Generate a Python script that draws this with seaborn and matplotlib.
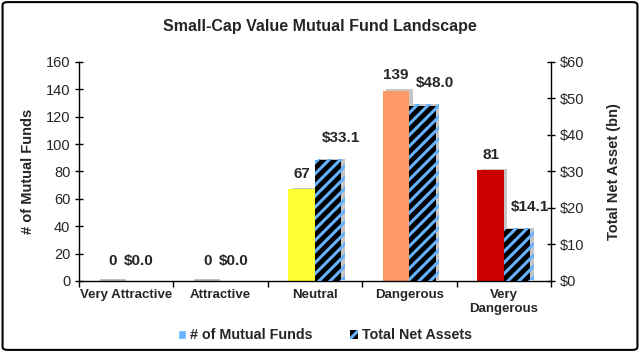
import numpy as np
import pandas as pd
import matplotlib
matplotlib.use("Agg")
import matplotlib.pyplot as plt
import matplotlib.patheffects as pe
from matplotlib.patches import Patch, FancyBboxPatch
import seaborn as sns

# ── Data ────────────────────────────────────────────────────────────────────
categories = ["Very Attractive", "Attractive", "Neutral", "Dangerous", "Very\nDangerous"]
num_funds = [0, 0, 67, 139, 81]
net_assets = [0.0, 0.0, 33.1, 48.0, 14.1]
fund_colours = ["#BFBFBF", "#BFBFBF", "#FFFF33", "#FF9966", "#CC0000"]
left_ticks = [0, 20, 40, 60, 80, 100, 120, 140, 160]
right_ticks = [0, 10, 20, 30, 40, 50, 60]

sns.set_theme(style="white")
plt.rcParams["font.family"] = ["Liberation Sans", "DejaVu Sans"]
plt.rcParams["hatch.linewidth"] = 2.2

fig = plt.figure(figsize=(6.4, 3.52), dpi=100)
ax1 = fig.add_axes([0.123, 0.202, 0.738, 0.622])
ax2 = ax1.twinx()

bw = 0.28
shadow = [pe.SimplePatchShadow(offset=(2.5, 1), shadow_rgbFace="#7f7f7f", alpha=0.45), pe.Normal()]

# ── Number of funds (left axis) ─────────────────────────────────────────────
df_f = pd.DataFrame({"category": categories, "funds": num_funds})
sns.barplot(data=df_f, x="category", y="funds", hue="category", palette=fund_colours,
            saturation=1, width=bw, legend=False, ax=ax1, zorder=3)
for p, v in zip(ax1.patches, num_funds):
    p.set_x(p.get_x() - bw / 2)
    p.set_linewidth(0)
    if v == 0:
        p.set_height(1.6)
    else:
        p.set_path_effects(shadow)
    ax1.annotate(f"{v}", (p.get_x() + bw / 2, v), xytext=(0, 6 if v else 9),
                 textcoords="offset points", ha="center", va="bottom",
                 fontsize=11, fontweight="bold")

# ── Total net assets (right axis) ───────────────────────────────────────────
df_a = pd.DataFrame({"category": categories, "assets": net_assets})
sns.barplot(data=df_a, x="category", y="assets", color="black", saturation=1,
            width=bw, ax=ax2, zorder=3)
for p, v in zip(ax2.patches, net_assets):
    p.set_x(p.get_x() + bw / 2)
    if v == 0:
        p.set_visible(False)
    else:
        p.set_facecolor("black")
        p.set_edgecolor("#66B2FF")
        p.set_hatch("///")
        p.set_linewidth(0)
        p.set_path_effects(shadow)
    ax2.annotate(f"${v:.1f}", (p.get_x() + bw / 2, v), xytext=(9 if v else 0, 11 if v else 9),
                 textcoords="offset points", ha="center", va="bottom",
                 fontsize=11, fontweight="bold")

# ── Axes styling ────────────────────────────────────────────────────────────
ax1.set_ylim(0, 160)
ax2.set_ylim(0, 60)
ax1.set_xlim(-0.5, len(categories) - 0.5)
ax1.set_yticks(left_ticks)
ax2.set_yticks(right_ticks)
ax2.set_yticklabels([f"${t}" for t in right_ticks])
ax1.set_xticks(range(len(categories)))
ax1.set_xticklabels(categories, fontweight="bold", fontsize=9.5)
ax1.set_xlabel("")
ax1.set_ylabel("# of Mutual Funds", fontweight="bold", fontsize=10.5, labelpad=8)
ax2.set_ylabel("Total Net Asset (bn)", fontweight="bold", fontsize=10.5, labelpad=17)
ax2.set_xlabel("")

for ax in (ax1, ax2):
    ax.spines["top"].set_visible(False)
    ax.tick_params(axis="y", labelsize=10.5, length=4, width=1, color="black")
    for s in ax.spines.values():
        s.set_color("black")
        s.set_linewidth(1)
        s.set_zorder(4)
ax1.spines["right"].set_visible(False)
ax2.spines["left"].set_visible(False)
ax2.spines["bottom"].set_visible(False)
ax1.tick_params(axis="y", direction="inout", left=True, length=6, pad=3)
ax2.tick_params(axis="y", direction="inout", right=True, length=6, pad=3)
# category boundary ticks on the x axis
ax1.set_xticks(np.arange(-0.5, len(categories), 1.0), minor=True)
ax1.tick_params(axis="x", which="major", length=0, pad=6)
ax1.tick_params(axis="x", which="minor", length=4, width=1, color="black", bottom=True)
ax1.grid(False)
ax2.grid(False)

fig.suptitle("Small-Cap Value Mutual Fund Landscape", fontsize=11.5, fontweight="bold", y=0.945)

handles = [Patch(facecolor="#66B2FF", label="# of Mutual Funds"),
           Patch(facecolor="black", edgecolor="#66B2FF", hatch="///", linewidth=0,
                 label="Total Net Assets")]
fig.legend(handles=handles, loc="center", bbox_to_anchor=(0.508, 0.047), ncol=2,
           frameon=False, handlelength=0.55, handleheight=0.55,
           columnspacing=2.6, handletextpad=0.3, prop={"weight": "bold", "size": 10.3})

fig.patches.append(FancyBboxPatch((0.004, 0.006), 0.992, 0.988, boxstyle="round,pad=0,rounding_size=0.008",
                                  transform=fig.transFigure, fill=False, edgecolor="black",
                                  linewidth=1.5, figure=fig))

fig.savefig("out.png", dpi=100)
